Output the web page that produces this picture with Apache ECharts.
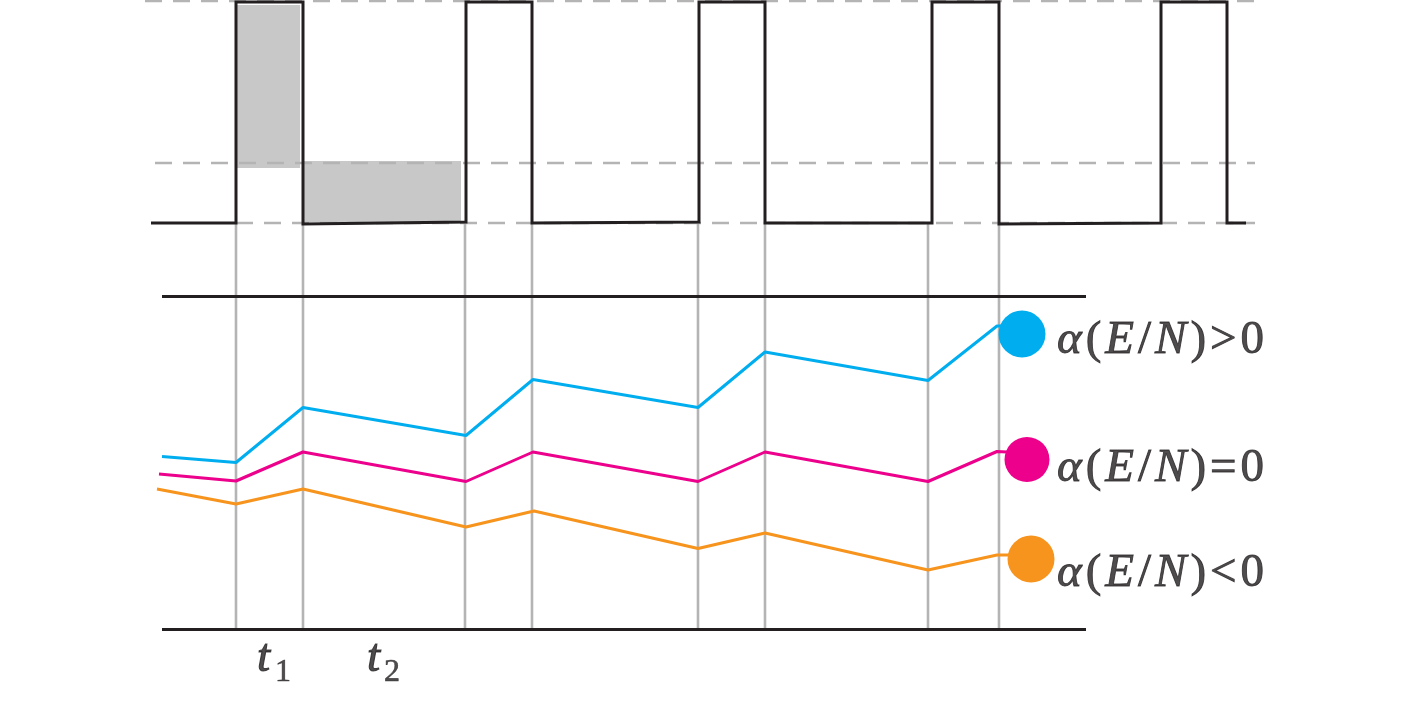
<!DOCTYPE html>
<html><head><meta charset="utf-8">
<script src="https://cdn.jsdelivr.net/npm/echarts@6/dist/echarts.min.js"></script>
<style>html,body{margin:0;padding:0;background:#fff}#c{width:1417px;height:701px}</style>
</head><body><div id="c"></div>
<script>
// x: time in figure units, y: level in figure units (drawn downward)
const pulseTimes  = [151,236,236,303,303,466,466,532,532,699,699,765,765,932,932,999,999,1161,1161,1227,1227,1246];
const pulseLevels = [223,223,2,2,224,222,2,2,223,222,2,2,223,223,2,2,224,223,2,2,223,223];
const refLevels = [1, 163, 223];
const refStarts = [145, 155, 236];
const refEnd = 1255;
const shadeBlocks = [[237, 300, 5, 168], [303, 461, 161, 222]];
const eventTimes = [236, 303, 465, 532, 698, 765, 928, 999];
const eventSpan = [222, 631];
const frameLevels = [296.5, 629.5];
const frameSpan = [162, 1086];

const seriesNames = ['α(E/N)>0', 'α(E/N)=0', 'α(E/N)<0'];
const blueCurve    = [[162,456.5],[236,462.5],[303,407.5],[466,435.5],[533,379.5],[698,407.5],[765,352],[928,380.5],[997,326],[1001,326]];
const magentaCurve = [[159,474],[236,481],[303,452],[466,481.5],[533,452],[698,481.5],[765,452],[928,481.5],[997,451.5],[1007,452]];
const orangeCurve  = [[157,489],[236,504],[303,489],[466,527],[534,511],[698,548.5],[765,533],[928,570],[997,555],[1010,555]];
const endMarkers = [[1022,334],[1027,459.5],[1031,559]];
const endSizes = [47, 45, 47];
const labelAnchors = [[1055,341],[1055,469],[1055,574]];
const tLabels = ['1', '2'];
const tAnchors = [[257,659],[367,659]];
const tSubAnchors = [[275,673],[384,673]];

const colors = ['#00aeef', '#ec008c', '#f7941d'];
const curves = [blueCurve, magentaCurve, orangeCurve];
const ink = '#231f20';
const clear = 'rgba(0,0,0,0)';

const series = [];
// shaded blocks
series.push({
  type: 'custom', z: 1, silent: true,
  data: shadeBlocks,
  renderItem: function (params, api) {
    const p0 = api.coord([api.value(0), api.value(2)]);
    const p1 = api.coord([api.value(1), api.value(3)]);
    return { type: 'rect', shape: { x: p0[0], y: Math.min(p0[1], p1[1]), width: p1[0] - p0[0], height: Math.abs(p1[1] - p0[1]) }, style: { fill: '#c8c8c8' } };
  }
});
// dashed reference levels
refLevels.forEach(function (lv, i) {
  series.push({
    type: 'line', z: 2, silent: true, clip: false, symbol: 'none',
    data: [[refStarts[i], lv], [refEnd, lv]],
    lineStyle: { color: '#b4b4b4', width: 2.6, type: [17, 11] }
  });
});
// vertical event lines
series.push({
  type: 'custom', z: 2, silent: true,
  data: eventTimes.map(function (t) { return [t, eventSpan[0], eventSpan[1]]; }),
  renderItem: function (params, api) {
    const a = api.coord([api.value(0), api.value(1)]);
    const b = api.coord([api.value(0), api.value(2)]);
    return { type: 'line', shape: { x1: a[0], y1: a[1], x2: b[0], y2: b[1] }, style: { stroke: '#b4b4b4', lineWidth: 2.6 } };
  }
});
// pulse waveform
series.push({
  type: 'line', z: 3, silent: true, clip: false, symbol: 'none',
  data: pulseTimes.map(function (t, i) { return [t, pulseLevels[i]]; }),
  lineStyle: { color: ink, width: 3, join: 'miter' }
});
// frame lines
frameLevels.forEach(function (lv) {
  series.push({
    type: 'line', z: 3, silent: true, clip: false, symbol: 'none',
    data: [[frameSpan[0], lv], [frameSpan[1], lv]],
    lineStyle: { color: ink, width: 3 }
  });
});
// curves
curves.forEach(function (c, i) {
  series.push({
    type: 'line', name: seriesNames[i], z: 4, silent: true, clip: false, symbol: 'none',
    data: c,
    lineStyle: { color: colors[i], width: 3 }
  });
});
// end markers
series.push({
  type: 'scatter', z: 5, silent: true, symbol: 'circle',
  data: endMarkers.map(function (p, i) { return { value: p, symbolSize: endSizes[i], itemStyle: { color: colors[i], opacity: 1 } }; })
});
// labels
const base = { fontFamily: 'Liberation Serif', fontSize: 47, color: ink, textBorderColor: ink, textBorderWidth: 0.9, padding: [0, 2] };
const rich = {
  g: Object.assign({}, base, { fontStyle: 'italic' }),
  n: Object.assign({}, base)
};
function fmt(name) {
  const parts = [['g','α'],['n','('],['g','E'],['n','/'],['g','N'],['n',')'],['n',name.slice(-2,-1)],['n',name.slice(-1)]];
  return parts.map(function (p) { return '{' + p[0] + '|' + p[1] + '}'; }).join('');
}
series.push({
  type: 'scatter', z: 6, silent: true, symbolSize: 0, itemStyle: { color: clear },
  data: labelAnchors.map(function (p, i) {
    return { value: p, label: { show: true, position: 'right', distance: 0, formatter: fmt(seriesNames[i]), rich: rich, color: ink } };
  })
});
// t labels
series.push({
  type: 'scatter', z: 6, silent: true, symbolSize: 0, itemStyle: { color: clear },
  data: tAnchors.map(function (p) {
    return { value: p, label: { show: true, position: 'right', distance: 0, formatter: 't', fontFamily: 'Liberation Serif', fontStyle: 'italic', fontSize: 47, color: ink, textBorderColor: ink, textBorderWidth: 1.1 } };
  }).concat(tSubAnchors.map(function (p, i) {
    return { value: p, label: { show: true, position: 'right', distance: 0, formatter: tLabels[i], fontFamily: 'Liberation Serif', fontSize: 32, color: ink, textBorderColor: ink, textBorderWidth: 0.6 } };
  }))
});

const chart = echarts.init(document.getElementById('c'), null, { renderer: 'canvas' });
chart.setOption({
  animation: false,
  backgroundColor: '#ffffff',
  grid: { left: 0, right: 0, top: 0, bottom: 0 },
  xAxis: { type: 'value', min: 0, max: 1417, show: false },
  yAxis: { type: 'value', min: 0, max: 701, inverse: true, show: false },
  series: series
});
</script></body></html>
